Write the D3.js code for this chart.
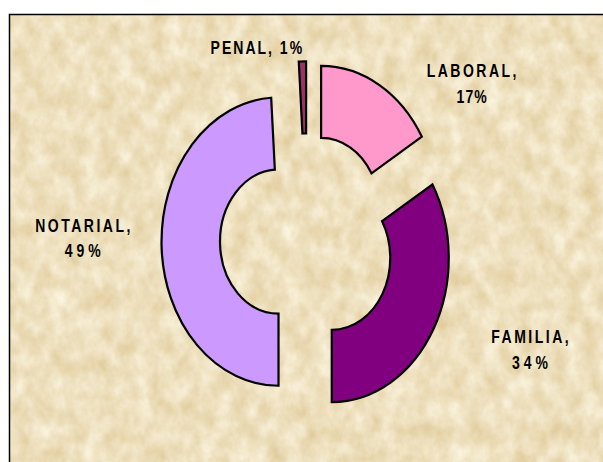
<!DOCTYPE html>
<html>
<head>
<meta charset="utf-8">
<script src="https://d3js.org/d3.v7.min.js"></script>
<style>
  html, body { margin: 0; padding: 0; background: #fff; }
  svg { display: block; }
  .lbl { font-family: "Liberation Sans", Arial, sans-serif; font-weight: bold; font-size: 14px; fill: #000; }
</style>
</head>
<body>
<svg id="chart"></svg>
<script>
  // data
  var categories = ['LABORAL', 'FAMILIA', 'NOTARIAL', 'PENAL'];
  var values = [33, 67, 98, 2];

  // styles
  var colors = ['#FF99CC', '#800080', '#CC99FF', '#993366'];
  var nameSpacing = [2.5, 2.5, 2.5, 2];
  var pctSpacing = [1, 4, 4, 0.5];
  // label offset from the slice centroid (first line baseline, centre)
  var labelOffset = [[107, -39], [122, 32], [-108, -13], [-47, -43]];

  var width = 603, height = 462;
  var cx = 307, cy = 240.5;
  var outerR = 117, innerR = 58.5;
  var stretch = 1.232;   // the picture is taller than wide
  var explode = 28.5;

  var svg = d3.select('#chart').attr('width', width).attr('height', height);

  // parchment background
  var defs = svg.append('defs');
  var f = defs.append('filter').attr('id', 'paper')
    .attr('x', 0).attr('y', 0).attr('width', '100%').attr('height', '100%')
    .attr('color-interpolation-filters', 'sRGB');
  f.append('feTurbulence').attr('type', 'fractalNoise')
    .attr('baseFrequency', '0.06 0.045').attr('numOctaves', 5).attr('seed', 7).attr('result', 'n');
  f.append('feColorMatrix').attr('in', 'n').attr('type', 'matrix')
    .attr('values', '0.13 0 0 0 0.868  0.2 0 0 0 0.778  0.33 0 0 0 0.58  0 0 0 0 1');

  svg.append('rect')
    .attr('x', 9).attr('y', 14).attr('width', width).attr('height', height)
    .attr('fill', '#eee0be');
  svg.append('rect')
    .attr('x', 9).attr('y', 14).attr('width', width).attr('height', height)
    .attr('filter', 'url(#paper)');
  svg.append('rect')
    .attr('x', 9.5).attr('y', 14.5).attr('width', width + 20).attr('height', height + 20)
    .attr('fill', 'none').attr('stroke', '#000').attr('stroke-width', 1.5);

  var total = d3.sum(values);
  var pie = d3.pie().sort(null).value(function(d) { return d; });
  var arcs = pie(values);
  var arc = d3.arc().innerRadius(innerR).outerRadius(outerR);

  function sliceCenter(a) {
    var mid = (a.startAngle + a.endAngle) / 2;
    return [cx + explode * Math.sin(mid), cy - explode * stretch * Math.cos(mid)];
  }

  var slices = svg.append('g').selectAll('g')
    .data(arcs)
    .enter()
    .append('g')
    .attr('transform', function(d) {
      var c = sliceCenter(d);
      return 'translate(' + c[0] + ',' + c[1] + ') scale(1,' + stretch + ')';
    });

  slices.append('path')
    .attr('d', arc)
    .attr('fill', function(d, i) { return colors[i]; })
    .attr('stroke', '#000')
    .attr('stroke-width', 2.2)
    .attr('stroke-linejoin', 'miter')
    .attr('vector-effect', 'non-scaling-stroke');

  // labels
  arcs.forEach(function(d, i) {
    var c = sliceCenter(d);
    var ct = arc.centroid(d);
    var x = c[0] + ct[0] + labelOffset[i][0];
    var y = c[1] + ct[1] * stretch + labelOffset[i][1];
    var pct = Math.round(values[i] * 100 / total) + '%';
    var lines = categories[i] === 'PENAL'
      ? [[categories[i] + ', ' + pct, nameSpacing[i]]]
      : [[categories[i] + ',', nameSpacing[i]], [pct, pctSpacing[i]]];
    lines.forEach(function(l, j) {
      svg.append('text')
        .attr('class', 'lbl')
        .attr('text-anchor', 'middle')
        .attr('transform', 'translate(' + (x + l[1] / 2) + ',' + (y + j * 25.5) + ') scale(1,1.27)')
        .style('letter-spacing', l[1] + 'px')
        .text(l[0]);
    });
  });
</script>
</body>
</html>
